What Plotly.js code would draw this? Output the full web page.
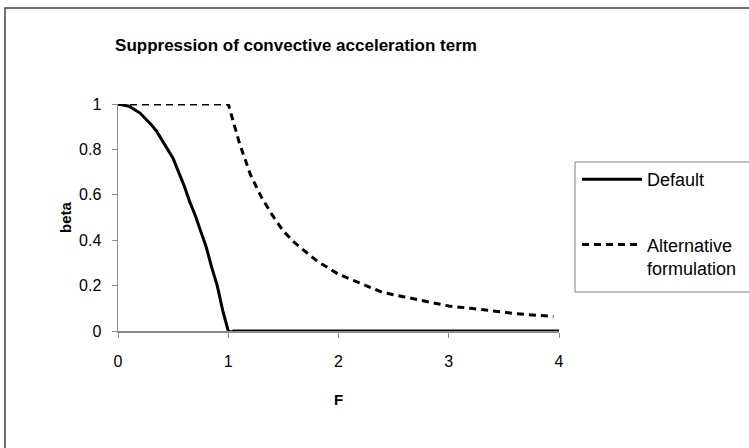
<!DOCTYPE html>
<html>
<head>
<meta charset="utf-8">
<script src="https://cdn.plot.ly/plotly-3.0.1.min.js"></script>
<style>html,body{margin:0;padding:0;background:#fff;}#chart{width:749px;height:448px;}</style>
</head>
<body>
<div id="chart"></div>
<script>
// Data
const defaultF = [0, 0.1, 0.2, 0.3, 0.35, 0.4, 0.45, 0.5, 0.55, 0.6, 0.65, 0.7, 0.75, 0.8, 0.85, 0.9, 0.95, 1.0, 1.03, 1.05, 1.5, 2, 2.5, 3, 3.5, 4];
const defaultBeta = [1, 0.99, 0.96, 0.91, 0.88, 0.84, 0.80, 0.76, 0.70, 0.64, 0.57, 0.51, 0.44, 0.37, 0.28, 0.20, 0.09, 0.0, -0.005, 0.0, 0, 0, 0, 0, 0, 0];
const altF = [0, 0.5, 1.0, 1.1, 1.2, 1.3, 1.4, 1.5, 1.6, 1.7, 1.8, 1.9, 2.0, 2.2, 2.4, 2.6, 2.8, 3.0, 3.2, 3.4, 3.6, 3.8, 3.95];
const altBeta = [1, 1, 1, 0.83, 0.69, 0.59, 0.51, 0.44, 0.39, 0.35, 0.31, 0.28, 0.25, 0.21, 0.17, 0.15, 0.13, 0.11, 0.10, 0.087, 0.077, 0.069, 0.064];
const seriesNames = ["Default", "Alternative<br>formulation"];
const xTicks = [0, 1, 2, 3, 4];
const yTicks = [0, 0.2, 0.4, 0.6, 0.8, 1];
const yTickText = ["0", "0.2", "0.4", "0.6", "0.8", "1"];

const FONT = "Liberation Sans, Arial, sans-serif";

const traces = [
  {x: defaultF, y: defaultBeta, name: seriesNames[0], type: "scatter", mode: "lines",
   line: {color: "#000", width: 3}, cliponaxis: false, legendgroup: "a"},
  {x: altF, y: altBeta, name: seriesNames[1], type: "scatter", mode: "lines",
   line: {color: "#000", width: 3, dash: "7px,5px"}, cliponaxis: false, legendgroup: "b"}
];

const W = 749, H = 448;
const L = 118, R = 559, T = 104, B = 331;
const px2x = p => (p - L) / (R - L);
const px2y = p => (B - p) / (B - T);

const layout = {
  width: W, height: H,
  margin: {l: L, r: W - R, t: T, b: H - B, pad: 0, autoexpand: false},
  paper_bgcolor: "#fff", plot_bgcolor: "#fff",
  font: {family: FONT, size: 16, color: "#000"},
  title: {text: "<b>Suppression of convective acceleration term</b>", font: {family: FONT, size: 17, color: "#000"},
          x: px2x(296), xref: "paper", xanchor: "center", y: 1 - 45/H, yref: "container", yanchor: "middle"},
  xaxis: {range: [0, 4], tickvals: xTicks, ticktext: xTicks.map(String), showgrid: false, zeroline: false,
          showline: true, linecolor: "#8c8c8c", linewidth: 1.5, ticks: "outside", ticklen: 5, tickcolor: "#8c8c8c",
          tickwidth: 1, tickfont: {size: 16}, ticklabelstandoff: 10, automargin: false,
          title: {text: "<b>F</b>", font: {size: 15}, standoff: 26}, fixedrange: true},
  yaxis: {range: [0, 1], tickvals: yTicks, ticktext: yTickText, showgrid: false, zeroline: false,
          showline: true, linecolor: "#8c8c8c", linewidth: 1.5, ticks: "outside", ticklen: 5, tickcolor: "#8c8c8c",
          tickwidth: 1, tickfont: {size: 16}, ticklabelstandoff: 7, automargin: false,
          title: {text: "<b>beta</b>", font: {size: 15}, standoff: 4}, fixedrange: true},
  showlegend: true,
  legend: {xref: "container", yref: "container", x: 577 / W, xanchor: "left", y: 1 - 161 / H, yanchor: "top",
           bgcolor: "rgba(0,0,0,0)", borderwidth: 0, font: {family: FONT, size: 18}, itemwidth: 60,
           tracegroupgap: 39, traceorder: "grouped", valign: "top"},
  shapes: [
    {type: "rect", xref: "paper", yref: "paper", x0: px2x(5), x1: px2x(760), y0: px2y(8), y1: px2y(460),
     line: {color: "#404040", width: 1.5}, fillcolor: "rgba(0,0,0,0)", layer: "below"},
    {type: "rect", xref: "paper", yref: "paper", x0: px2x(575), x1: px2x(760), y0: px2y(162), y1: px2y(292),
     line: {color: "#808080", width: 1}, fillcolor: "rgba(0,0,0,0)", layer: "below"}
  ]
};

Plotly.newPlot("chart", traces, layout, {staticPlot: true, displayModeBar: false});
</script>
</body>
</html>
